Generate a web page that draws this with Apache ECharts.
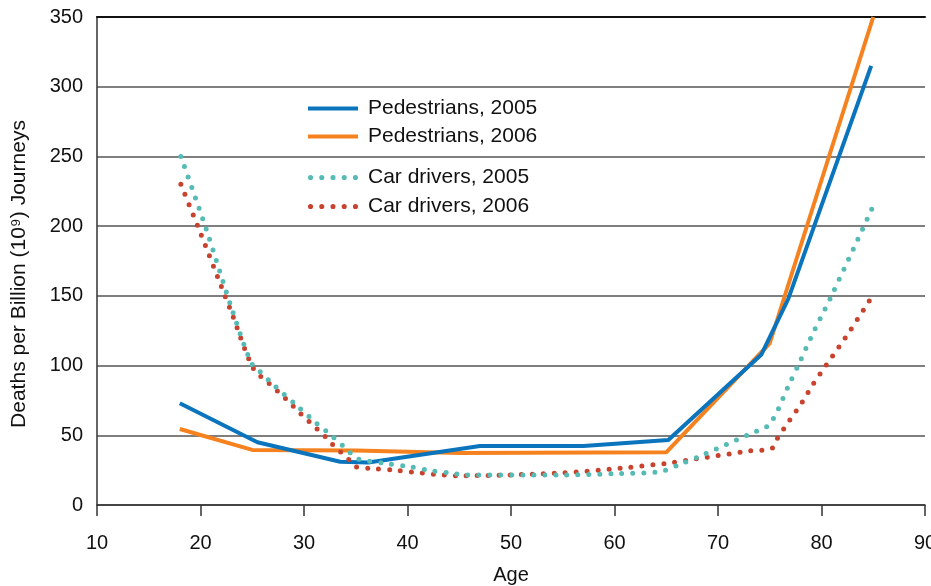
<!DOCTYPE html>
<html>
<head>
<meta charset="utf-8">
<script src="https://cdn.jsdelivr.net/npm/echarts@6/dist/echarts.min.js"></script>
<style>
  html, body { margin: 0; padding: 0; background: #fff; }
  #chart { width: 931px; height: 586px; }
</style>
</head>
<body>
<div id="chart"></div>
<script>
// values: [age, deaths per billion journeys]
const pedestrians2005 = [
  [18, 73], [25.5, 45], [33.5, 31], [36.2, 30.5], [47, 42.3], [57, 42.3],
  [65.2, 46.6], [74.2, 108], [76.8, 148], [84.8, 315]
]
const pedestrians2006 = [
  [18, 54.5], [25, 39.5], [35, 39], [45, 37.3], [65, 37.8], [75, 116], [85, 350]
]
const carDrivers2005 = [
  [18.1, 250], [20.5, 199], [23.1, 139], [24.9, 102], [25.7, 96], [27.1, 86],
  [29.5, 70], [31.1, 59.3], [32.7, 49.5], [34.3, 38.7], [35.1, 33.5], [36, 31.8],
  [38.1, 29.6], [40.2, 27.5], [42.3, 24.6], [44.4, 22.7], [45.4, 21.5], [55, 21.5],
  [60, 22.5], [64.4, 24], [66.6, 30], [68.4, 35.4], [73.2, 51.4], [75, 58],
  [76.9, 87], [77.8, 101], [79.1, 122], [81, 150.6], [85, 214.5]
]
const carDrivers2006 = [
  [18.1, 230], [20, 195], [22, 157], [23.1, 136], [25.1, 98], [26.6, 87.3],
  [28.2, 76.5], [29.7, 65.3], [31.2, 55], [32, 49.5], [32.7, 43.8], [33.5, 38.3],
  [34.3, 32.8], [35, 27.5], [36.5, 26.3], [38.6, 25], [45.1, 21], [55, 23],
  [60.7, 26.5], [65.6, 30.4], [67.8, 33], [73, 38.7], [75.2, 40.6], [75.7, 47.3],
  [76.9, 60.5], [78.1, 73.4], [79.2, 86.8], [80.4, 99.7], [82.8, 125.5], [85.1, 152]
]

const FONT = 'Liberation Sans, Arial, sans-serif'
const BLUE = '#0a74bd'
const ORANGE = '#f5821f'
const TEAL = '#55bbb4'
const RED = '#c7432e'

// legend swatches: a solid bar and a row of five dots
const SOLID_ICON = 'path://M0,0H50V4H0Z'
const DOTS_ICON = 'path://' + [3, 14, 25, 36, 47]
  .map(cx => `M${cx - 2.5},2.5a2.5,2.5 0 1,0 5,0a2.5,2.5 0 1,0 -5,0Z`).join(' ')

const chart = echarts.init(document.getElementById('chart'))

const dotted = color => ({ color: color, width: 5, type: [0, 11], cap: 'round' })

const legendBase = {
  left: 308,
  padding: 0,
  orient: 'vertical',
  itemWidth: 50,
  itemHeight: 14,
  textStyle: { fontFamily: FONT, fontSize: 21, color: '#111', padding: [0, 0, 0, 5] }
}

chart.setOption({
  animation: false,
  backgroundColor: '#fff',
  textStyle: { fontFamily: FONT },
  grid: { left: 97, right: 6, top: 17, bottom: 81, containLabel: false, outerBoundsMode: 'none' },
  legend: [
    Object.assign({}, legendBase, {
      top: 98,
      itemGap: 7,
      icon: SOLID_ICON,
      data: ['Pedestrians, 2005', 'Pedestrians, 2006']
    }),
    Object.assign({}, legendBase, {
      top: 167,
      itemGap: 8,
      icon: DOTS_ICON,
      data: ['Car drivers, 2005', 'Car drivers, 2006']
    })
  ],
  xAxis: [
    {
      type: 'value',
      min: 10,
      max: 90,
      interval: 10,
      name: 'Age',
      nameLocation: 'middle',
      nameGap: 60,
      nameTextStyle: { fontFamily: FONT, fontSize: 20, color: '#111' },
      axisLine: { show: true, lineStyle: { color: '#333', width: 1.5 } },
      axisTick: { show: true, length: 11, lineStyle: { color: '#333', width: 1.5 } },
      axisLabel: { fontFamily: FONT, fontSize: 20, color: '#111', margin: 28 },
      splitLine: { show: false }
    },
    {
      type: 'value',
      position: 'top',
      min: 10,
      max: 90,
      axisLine: { show: true, lineStyle: { color: '#111', width: 2 } },
      axisTick: { show: false },
      axisLabel: { show: false },
      splitLine: { show: false }
    }
  ],
  yAxis: {
    type: 'value',
    min: 0,
    max: 350,
    interval: 50,
    name: 'Deaths per Billion (10\u2079) Journeys',
    nameLocation: 'middle',
    nameGap: 67,
    nameTextStyle: { fontFamily: FONT, fontSize: 21, color: '#111', padding: [0, 26, 0, 0] },
    axisLine: { show: true, lineStyle: { color: '#333', width: 1.5 } },
    axisTick: { show: false },
    axisLabel: { fontFamily: FONT, fontSize: 20, color: '#111', margin: 14 },
    splitLine: { show: true, lineStyle: { color: '#555', width: 1.5 } }
  },
  series: [
    {
      name: 'Pedestrians, 2006',
      type: 'line',
      data: pedestrians2006,
      symbol: 'none',
      lineStyle: { color: ORANGE, width: 4 },
      itemStyle: { color: ORANGE }
    },
    {
      name: 'Pedestrians, 2005',
      type: 'line',
      data: pedestrians2005,
      symbol: 'none',
      lineStyle: { color: BLUE, width: 4 },
      itemStyle: { color: BLUE }
    },
    {
      name: 'Car drivers, 2006',
      type: 'line',
      data: carDrivers2006,
      symbol: 'none',
      smooth: 0.3,
      lineStyle: dotted(RED),
      itemStyle: { color: RED }
    },
    {
      name: 'Car drivers, 2005',
      type: 'line',
      data: carDrivers2005,
      symbol: 'none',
      smooth: 0.3,
      lineStyle: dotted(TEAL),
      itemStyle: { color: TEAL }
    }
  ]
})
</script>
</body>
</html>
